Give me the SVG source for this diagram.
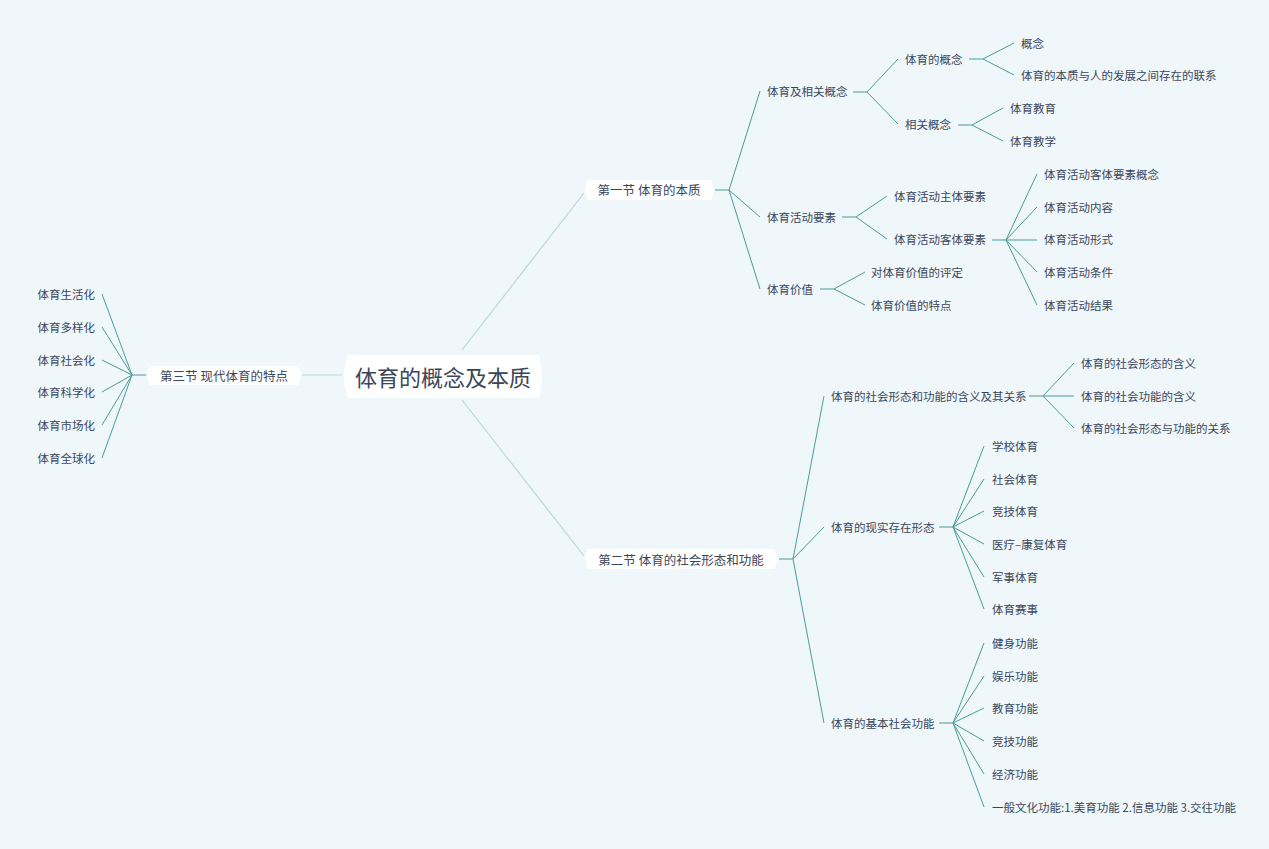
<svg xmlns="http://www.w3.org/2000/svg" width="1269" height="849" viewBox="0 0 1269 849">
<style>
text{font-family:"Noto Sans CJK SC","Noto Sans",sans-serif;fill:#3b465a;font-size:11.5px;dominant-baseline:central}
.l{fill:none;stroke:#4b9d97;stroke-width:1}
.r{fill:none;stroke:#b9d8db;stroke-width:1.2}
.n{fill:#fff}
.s{font-size:12.5px;text-anchor:middle}
.e{text-anchor:end}
</style>
<rect width="1269" height="849" fill="#eff7fa"/>
<g id="connectors">
<path class="r" d="M342 375H302M462 350L584 193M462 400L584 556"/>
<path class="l" d="M146 375H132M132 375L102 294M132 375L102 327M132 375L102 360M132 375L102 392M132 375L102 425M132 375L102 458"/>
<path class="l" d="M715 190H729M729 190L760 91M729 190L760 217M729 190L760 289"/>
<path class="l" d="M853 92H867M867 92L898 59M867 92L898 124"/>
<path class="l" d="M969 59H983M983 59L1014 43M983 59L1014 75"/>
<path class="l" d="M958 125H972M972 125L1003 108M972 125L1003 141"/>
<path class="l" d="M842 217H856M856 217L887 196M856 217L887 239"/>
<path class="l" d="M992 240H1006M1006 240L1037 174M1006 240L1037 207M1006 240L1037 240M1006 240L1037 272M1006 240L1037 305"/>
<path class="l" d="M820 289H834M834 289L865 272M834 289L865 305"/>
<path class="l" d="M779 559H793M793 559L824 396M793 559L824 527M793 559L824 723"/>
<path class="l" d="M1029 396H1043M1043 396L1074 363M1043 396L1074 396M1043 396L1074 428"/>
<path class="l" d="M939 527H953M953 527L984 446M953 527L984 479M953 527L984 511M953 527L984 544M953 527L984 577M953 527L984 609"/>
<path class="l" d="M939 723H953M953 723L984 643M953 723L984 676M953 723L984 708M953 723L984 741M953 723L984 774M953 723L984 807"/>
</g>
<g id="root"><path class="n" d="M348 355H539Q545 376 539 398H348Q340 376 348 355Z"/><text x="443" y="376" style="font-size:22px;text-anchor:middle">体育的概念及本质</text></g>
<g id="s3"><path class="n" d="M150 366H298Q304 375 298 385H150Q144 375 150 366Z"/><text class="s" x="224" y="375">第三节 现代体育的特点</text></g>
<g id="s1"><path class="n" d="M588 180H711Q717 190 711 200H588Q582 190 588 180Z"/><text class="s" x="649" y="189">第一节 体育的本质</text></g>
<g id="s2"><path class="n" d="M588 549H774Q780 559 774 569H588Q582 559 588 549Z"/><text class="s" x="681" y="559">第二节 体育的社会形态和功能</text></g>
<g id="s3c">
<text class="e" x="95" y="294">体育生活化</text><text class="e" x="95" y="327">体育多样化</text><text class="e" x="95" y="360">体育社会化</text><text class="e" x="95" y="392">体育科学化</text><text class="e" x="95" y="425">体育市场化</text><text class="e" x="95" y="458">体育全球化</text>
</g>
<g id="s1c">
<text x="767" y="91">体育及相关概念</text><text x="905" y="59">体育的概念</text><text x="1021" y="43">概念</text><text x="1021" y="75">体育的本质与人的发展之间存在的联系</text>
<text x="905" y="124">相关概念</text><text x="1010" y="108">体育教育</text><text x="1010" y="141">体育教学</text>
<text x="767" y="217">体育活动要素</text><text x="894" y="196">体育活动主体要素</text><text x="894" y="239">体育活动客体要素</text>
<text x="1044" y="174">体育活动客体要素概念</text><text x="1044" y="207">体育活动内容</text><text x="1044" y="239">体育活动形式</text><text x="1044" y="272">体育活动条件</text><text x="1044" y="305">体育活动结果</text>
<text x="767" y="289">体育价值</text><text x="871" y="272">对体育价值的评定</text><text x="871" y="305">体育价值的特点</text>
</g>
<g id="s2c">
<text x="831" y="396">体育的社会形态和功能的含义及其关系</text><text x="1081" y="363">体育的社会形态的含义</text><text x="1081" y="396">体育的社会功能的含义</text><text x="1081" y="428">体育的社会形态与功能的关系</text>
<text x="831" y="527">体育的现实存在形态</text><text x="992" y="446">学校体育</text><text x="992" y="479">社会体育</text><text x="992" y="511">竞技体育</text><text x="992" y="544">医疗–康复体育</text><text x="992" y="577">军事体育</text><text x="992" y="609">体育赛事</text>
<text x="831" y="723">体育的基本社会功能</text><text x="992" y="643">健身功能</text><text x="992" y="676">娱乐功能</text><text x="992" y="708">教育功能</text><text x="992" y="741">竞技功能</text><text x="992" y="774">经济功能</text><text x="992" y="807">一般文化功能:1.美育功能 2.信息功能 3.交往功能</text>
</g>
</svg>
